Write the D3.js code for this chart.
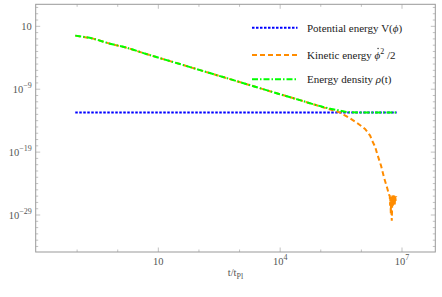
<!DOCTYPE html>
<html>
<head>
<meta charset="utf-8">
<script src="https://cdn.jsdelivr.net/npm/d3@7"></script>
<style>
    body { margin: 0; background: #fff; }
    svg text { font-family: "Liberation Serif", "DejaVu Serif", serif; }
</style>
</head>
<body>
<div id="chart"></div>
<script>
// potential energy V(phi)
var potT = [0.09, 7.4e6];
var potE = [1.9e-13, 1.9e-13];

// energy density rho(t)
var rhoT = [0.09, 0.25, 0.65, 1.66, 4.3, 11, 34, 107, 1000, 5600, 3.2e4, 1e5, 2e5, 3e5, 5e5, 1e6, 7.4e6];
var rhoE = [0.33, 0.11, 0.017, 4.0e-3, 5.5e-4, 8.7e-5, 1.0e-5, 1.07e-6, 1.4e-8, 4.8e-10, 1.7e-11, 1.9e-12, 6.5e-13, 4.0e-13, 2.2e-13, 1.95e-13, 1.9e-13];

// kinetic energy phidot^2/2
var kinT = [0.09, 0.25, 0.65, 1.66, 4.3, 11, 34, 107, 1000, 5600, 3.2e4, 1e5, 2e5, 3e5,
    5.25e5, 8.5e5, 1.23e6, 1.64e6, 1.84e6, 2.18e6, 2.44e6, 3.05e6, 3.62e6, 4.3e6, 4.81e6,
    5.0e6, 5.1e6, 5.2e6, 5.3e6, 5.4e6, 5.5e6, 5.6e6, 5.7e6, 5.8e6, 5.9e6, 6.0e6, 6.1e6,
    6.2e6, 6.3e6, 6.5e6, 6.6e6, 6.8e6, 7.0e6, 7.2e6];
var kinE = [0.33, 0.11, 0.017, 4.0e-3, 5.5e-4, 8.7e-5, 1.0e-5, 1.07e-6, 1.4e-8, 4.8e-10, 1.7e-11, 1.7e-12, 4.6e-13, 1.9e-13,
    2.4e-14, 3.0e-15, 4.8e-16, 4.2e-17, 6.6e-18, 7.2e-19, 5.5e-20, 6.8e-22, 8.3e-24, 2.1e-25, 1.6e-26,
    1.1e-26, 3e-28, 8e-27, 2e-29, 5e-27, 3e-29, 1.2e-30, 1e-28, 1.2e-26, 2e-28, 1e-26, 4e-28,
    1.4e-26, 6e-28, 1.1e-26, 3e-28, 9e-27, 2e-27, 1e-26];

var xMajor = [10, 1e4, 1e7];
var xMajorExp = ["", "4", "7"];
var yMajor = [10, 1e-9, 1e-19, 1e-29];
var yMajorExp = ["", "\u22129", "\u221219", "\u221229"];

var legendNames = ["Potential energy V(", "Kinetic energy ", "Energy density "];

var W = 442, H = 297;
var margin = { top: 4.3, right: 6.7, bottom: 45, left: 35.7 };
var width = W - margin.left - margin.right;
var height = H - margin.top - margin.bottom;

var svg = d3.select("#chart").append("svg")
    .attr("width", W).attr("height", H);
var g = svg.append("g")
    .attr("transform", "translate(" + margin.left + "," + margin.top + ")");

var x = d3.scaleLog().domain([Math.pow(10, -2.02), Math.pow(10, 7.82)]).range([0, width]);
var y = d3.scaleLog().domain([Math.pow(10, -34.88), Math.pow(10, 4.5)]).range([height, 0]);

var frameColor = "#999";
var labelColor = "#555";

// minor ticks every decade
var xMinor = d3.range(-1, 8).map(function (e) { return Math.pow(10, e); });
var yMinor = d3.range(-34, 5).map(function (e) { return Math.pow(10, e); });

function drawTicks() {
    var t = g.append("g").attr("stroke", frameColor).attr("stroke-width", 0.6);
    xMinor.forEach(function (v) {
        var len = xMajor.indexOf(v) >= 0 ? 4.5 : 2.5;
        t.append("line").attr("x1", x(v)).attr("x2", x(v)).attr("y1", height).attr("y2", height - len);
        t.append("line").attr("x1", x(v)).attr("x2", x(v)).attr("y1", 0).attr("y2", len);
    });
    yMinor.forEach(function (v) {
        var e = Math.round(Math.log10(v));
        var len = (e === 1 || e === -9 || e === -19 || e === -29) ? 4.5 : 2.5;
        t.append("line").attr("y1", y(v)).attr("y2", y(v)).attr("x1", 0).attr("x2", len);
        t.append("line").attr("y1", y(v)).attr("y2", y(v)).attr("x1", width).attr("x2", width - len);
    });
}
drawTicks();

// tick labels
xMajor.forEach(function (v, i) {
    var txt = g.append("text")
        .attr("x", x(v)).attr("y", height + 13)
        .attr("text-anchor", "middle")
        .attr("fill", labelColor).attr("font-size", 10.5)
        .text("10");
    if (xMajorExp[i]) {
        txt.append("tspan").attr("dy", -5).attr("font-size", 8).text(xMajorExp[i]);
    }
});
yMajor.forEach(function (v, i) {
    var txt = g.append("text")
        .attr("x", -4).attr("y", y(v) + 3.5)
        .attr("text-anchor", "end")
        .attr("fill", labelColor).attr("font-size", 10.5)
        .text("10");
    if (yMajorExp[i]) {
        txt.append("tspan").attr("dy", -5).attr("font-size", 8).text(yMajorExp[i]);
    }
});

// axis title
var xt = g.append("text")
    .attr("x", width / 2).attr("y", height + 24)
    .attr("text-anchor", "middle")
    .attr("fill", labelColor).attr("font-size", 10.5)
    .text("t/t");
xt.append("tspan").attr("dy", 3).attr("font-size", 8).text("Pl");

// plot lines
g.append("clipPath").attr("id", "clip")
    .append("rect").attr("width", width).attr("height", height);
var plot = g.append("g").attr("clip-path", "url(#clip)");

function zipPts(ts, es) {
    return ts.map(function (t, i) { return [t, es[i]]; });
}
var line = d3.line()
    .x(function (d) { return x(d[0]); })
    .y(function (d) { return y(d[1]); })
    .curve(d3.curveMonotoneX);
var rawLine = d3.line()
    .x(function (d) { return x(d[0]); })
    .y(function (d) { return y(d[1]); });

var styles = [
    { color: "#0000ff", dash: "2.5,1.5" },
    { color: "#ff8c00", dash: "5,3" },
    { color: "#00ff00", dash: "6,2,1.5,2" }
];

plot.append("path")
    .attr("d", rawLine(zipPts(potT, potE)))
    .attr("fill", "none").attr("stroke", styles[0].color)
    .attr("stroke-width", 2).attr("stroke-dasharray", styles[0].dash);
plot.append("path")
    .attr("d", rawLine(zipPts(kinT, kinE)))
    .attr("fill", "none").attr("stroke", styles[1].color)
    .attr("stroke-width", 2).attr("stroke-dasharray", styles[1].dash);
plot.append("path")
    .attr("d", line(zipPts(rhoT, rhoE)))
    .attr("fill", "none").attr("stroke", styles[2].color)
    .attr("stroke-width", 2).attr("stroke-dasharray", styles[2].dash);

// frame
g.append("rect")
    .attr("width", width).attr("height", height)
    .attr("fill", "none").attr("stroke", frameColor).attr("stroke-width", 1);

// legend
var legY = [27.7, 55, 79.3];
var lg = svg.append("g");
styles.forEach(function (s, i) {
    lg.append("line")
        .attr("x1", 252).attr("x2", 297.5)
        .attr("y1", legY[i]).attr("y2", legY[i])
        .attr("stroke", s.color).attr("stroke-width", 2)
        .attr("stroke-dasharray", s.dash);
    var t = lg.append("text")
        .attr("x", 307).attr("y", legY[i] + 4)
        .attr("fill", "#222").attr("font-size", 11)
        .text(legendNames[i]);
    if (i === 0) {
        t.append("tspan").attr("font-style", "italic").text("\u03d5");
        t.append("tspan").text(")");
    } else if (i === 1) {
        t.append("tspan").attr("font-style", "italic").text("\u03d5");
        t.append("tspan").attr("dy", -5).attr("font-size", 8).text("2");
        t.append("tspan").attr("dy", 5).text(" /2");
        // dot over phi
        var n = legendNames[1].length;
        var box = t.node().getExtentOfChar(n);
        lg.append("circle")
            .attr("cx", box.x + box.width / 2 + 0.6)
            .attr("cy", box.y - 0.5)
            .attr("r", 0.7).attr("fill", "#222");
    } else {
        t.append("tspan").attr("font-style", "italic").text("\u03c1");
        t.append("tspan").text("(t)");
    }
});
</script>
</body>
</html>
